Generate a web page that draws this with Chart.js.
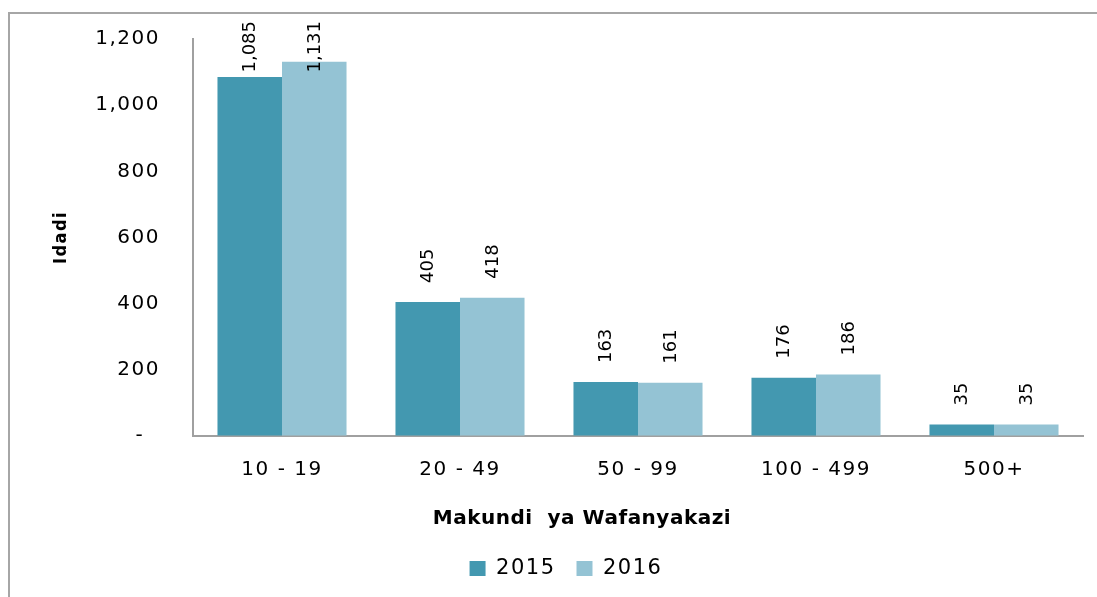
<!DOCTYPE html>
<html>
<head>
<meta charset="utf-8">
<script src="https://cdn.jsdelivr.net/npm/chart.js@4/dist/chart.umd.min.js"></script>
<style>
  html, body { margin: 0; padding: 0; background: #fff; }
  #frame {
    position: absolute; left: 8px; top: 12px;
    width: 1087px; height: 583px;
    border-left: 2px solid #a6a6a6; border-top: 2px solid #a6a6a6;
  }
  canvas { display: block; }
</style>
</head>
<body>
<div id="frame"><canvas id="chart" width="1087" height="583"></canvas></div>
<script>
// data
var categories = ['10 - 19', '20 - 49', '50 - 99', '100 - 499', '500+'];
var seriesNames = ['2015', '2016'];
var values2015 = [1085, 405, 163, 176, 35];
var values2016 = [1131, 418, 161, 186, 35];
var yTicks = [0, 200, 400, 600, 800, 1000, 1200];
var xTitle = 'Makundi  ya Wafanyakazi';
var yTitle = 'Idadi';

var FONT = '"DejaVu Sans", Verdana, sans-serif';
var NARROW = '"DejaVu Sans Condensed", "DejaVu Sans", sans-serif';

function fmt(v) {
    return v === 0 ? '-  ' : v.toLocaleString('en-US');
}

// wider spacing for axis and legend text, like the original
var spacingPlugin = {
    id: 'spacing',
    beforeUpdate: function(chart) { chart.ctx.letterSpacing = '1.5px'; },
    beforeDraw: function(chart) { chart.ctx.letterSpacing = '1.5px'; },
    beforeDatasetsDraw: function(chart) { chart.ctx.letterSpacing = '0px'; }
};

// rotated value labels above bars + x axis title
var labelPlugin = {
    id: 'barLabels',
    afterDraw: function(chart) {
        var ctx = chart.ctx;
        ctx.save();
        ctx.letterSpacing = '0px';
        ctx.font = '18px ' + FONT;
        ctx.fillStyle = '#000';
        ctx.textAlign = 'left';
        ctx.textBaseline = 'middle';
        chart.data.datasets.forEach(function(ds, di) {
            var meta = chart.getDatasetMeta(di);
            meta.data.forEach(function(bar, i) {
                var text = fmt(ds.data[i]);
                var w = ctx.measureText(text).width;
                var bottom = Math.max(bar.y - 19, 7 + w);
                ctx.save();
                ctx.translate(bar.x + 1, bottom);
                ctx.rotate(-Math.PI / 2);
                ctx.fillText(text, 0, 0);
                ctx.restore();
            });
        });
        ctx.letterSpacing = '0.5px';
        ctx.font = 'bold 20px ' + FONT;
        ctx.textAlign = 'center';
        ctx.fillText(xTitle, 572, 505);
        ctx.restore();
    }
};

var ctx = document.getElementById('chart').getContext('2d');
var chart = new Chart(ctx, {
    type: 'bar',
    data: {
        labels: categories,
        datasets: [{
            label: seriesNames[0],
            data: values2015,
            backgroundColor: '#4398b0',
            barPercentage: 1,
            categoryPercentage: 0.725
        }, {
            label: seriesNames[1],
            data: values2016,
            backgroundColor: '#94c3d4',
            barPercentage: 1,
            categoryPercentage: 0.725
        }]
    },
    options: {
        responsive: false,
        animation: false,
        layout: { padding: { left: 39, right: 14, top: 25, bottom: 8 } },
        plugins: {
            tooltip: { enabled: false },
            legend: {
                position: 'bottom',
                labels: {
                    font: { family: FONT, size: 21 },
                    color: '#000',
                    boxWidth: 16,
                    boxHeight: 15,
                    padding: 21
                }
            }
        },
        scales: {
            x: {
                grid: { display: false, drawTicks: false },
                border: { display: true, color: '#a0a0a0', width: 2 },
                ticks: { font: { family: FONT, size: 20 }, color: '#000', padding: 22, maxRotation: 0 },
                afterFit: function(scale) { scale.height = 101; }
            },
            y: {
                min: 0,
                max: 1200,
                afterBuildTicks: function(scale) {
                    scale.ticks = yTicks.map(function(v) { return { value: v }; });
                },
                // invisible tick marks keep the labels away from the axis
                grid: {
                    display: true,
                    drawOnChartArea: false,
                    drawTicks: true,
                    tickLength: 33,
                    tickColor: 'rgba(0,0,0,0)'
                },
                border: { display: true, color: '#a0a0a0', width: 2 },
                ticks: {
                    font: { family: FONT, size: 20 },
                    color: '#000',
                    padding: 0,
                    callback: function(v) { return fmt(v); }
                },
                title: {
                    display: true,
                    text: yTitle,
                    color: '#000',
                    font: { family: NARROW, size: 18, weight: 'bold' },
                    padding: { top: 2, bottom: 0 }
                },
                afterFit: function(scale) { scale.width = 144; }
            }
        }
    },
    plugins: [spacingPlugin, labelPlugin]
});
</script>
</body>
</html>
